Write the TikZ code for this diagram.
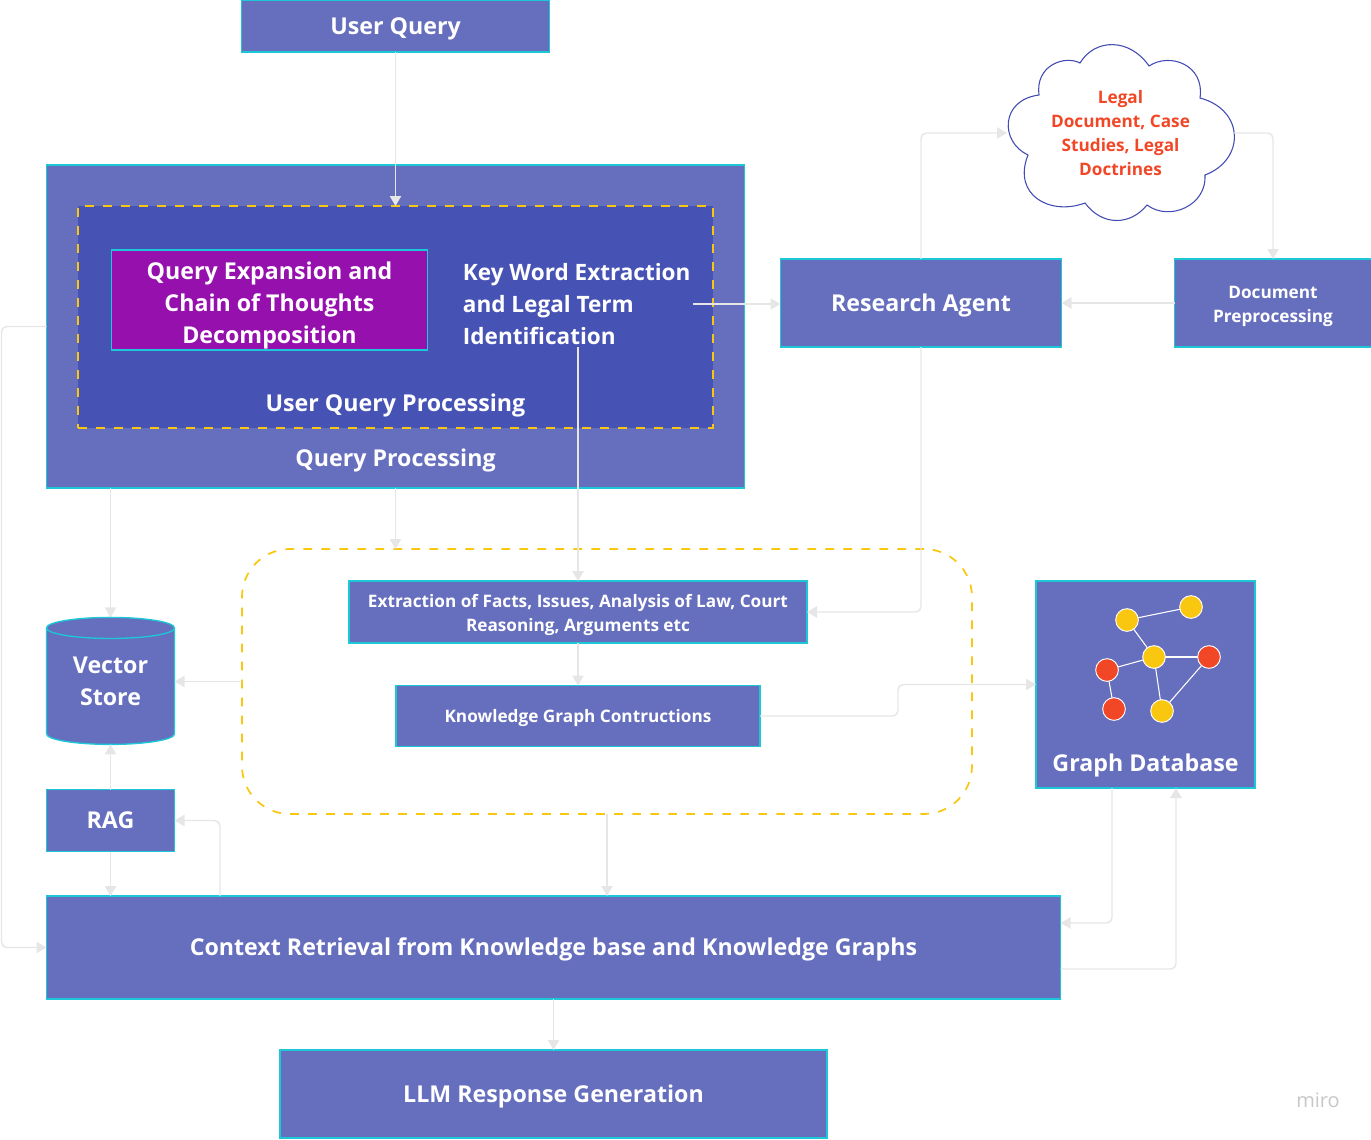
\documentclass[tikz,border=0pt]{standalone}
\usepackage{fontspec}
\setmainfont{Open Sans}
\usetikzlibrary{arrows.meta,shapes.geometric}

\definecolor{boxblue}{HTML}{666EBE}
\definecolor{deepblue}{HTML}{4753B4}
\definecolor{edgecyan}{HTML}{1CC8D8}
\definecolor{dashyellow}{HTML}{FAC710}
\definecolor{hotred}{HTML}{F24726}
\definecolor{purplebox}{HTML}{9510AC}
\definecolor{linkgrey}{HTML}{E6E6E6}
\definecolor{cloudblue}{HTML}{414BB2}

\newcommand{\topgap}[1]{\rule{0pt}{#1pt}}
\newcommand{\lowgap}[1]{\rule[-#1pt]{0pt}{#1pt}}

\tikzset{
    bigtxt/.style={font=\fontsize{17.4}{24}\selectfont\bfseries, text=white, align=center},
    smalltxt/.style={font=\fontsize{12.9}{18}\selectfont\bfseries, text=white, align=center},
    bigone/.style={bigtxt, text height=16pt, text depth=3.6pt},
    smallone/.style={smalltxt, text height=12pt, text depth=2.8pt},
    sized/.style 2 args={minimum width=#1*0.75pt, minimum height=#2*0.75pt},
    procbox/.style={draw=edgecyan, fill=boxblue, line width=1pt, inner sep=0pt, outer sep=0pt},
    dashline/.style={draw=dashyellow, dash pattern=on 6.5pt off 7pt, line width=1.3pt, outer sep=0pt},
    link/.style={draw=linkgrey, line width=1.1pt, rounded corners=4pt, -{Triangle[length=7.5pt,width=8.5pt]}},
    gnode/.style={circle, draw=white, line width=0.7pt, minimum size=17pt, inner sep=0pt, outer sep=0pt},
    gedge/.style={draw=white, line width=0.8pt}
}

\begin{document}
\begin{tikzpicture}[x=0.75pt, y=-0.75pt]
    \useasboundingbox (0,0) rectangle (1371,1139);

    % top boxes
    \node[procbox, bigone, sized={308}{52}] (userquery) at (395.5,26) {User Query};
    \node[procbox, sized={698}{323}] (qproc) at (395.5,326.5) {};
    \node[dashline, fill=deepblue, sized={635}{222}] (uqproc) at (395.5,317) {};
    \node[procbox, bigtxt, fill=purplebox, sized={316}{100}] (expansion) at (269.5,300) {\topgap{21.5}Query Expansion and\\Chain of Thoughts\\Decomposition};
    \node[bigtxt, font=\fontsize{16.9}{24}\selectfont\bfseries, align=left, anchor=west, inner sep=0pt, outer sep=2pt] (keyword) at (460.3,304) {Key Word Extraction\\and Legal Term\\Identification};
    \node[bigone, inner sep=0pt] (uqlabel) at (395.5,403) {User Query Processing};
    \node[bigone, inner sep=0pt] (qplabel) at (395.5,458) {Query Processing};

    \node[procbox, bigone, sized={281}{88}] (research) at (921,303) {Research Agent};
    \node[procbox, smalltxt, sized={197}{88}] (docprep) at (1273,303) {\topgap{15}Document\\Preprocessing};

    % cloud
    \draw[draw=cloudblue, fill=white, line width=0.8pt] (1028,155)
        .. controls (1000,142) and (1000,100) .. (1039,95)
        .. controls (1035,65) and (1065,55) .. (1080,63)
        .. controls (1095,38) and (1130,38) .. (1149,66)
        .. controls (1170,52) and (1205,65) .. (1200,98)
        .. controls (1245,110) and (1245,160) .. (1205,175)
        .. controls (1207,205) and (1170,222) .. (1147,205)
        .. controls (1130,226) and (1102,226) .. (1085,203)
        .. controls (1050,216) and (1012,195) .. (1028,155) -- cycle;
    \node[smalltxt, text=hotred, sized={227}{175}, inner sep=0pt, outer sep=0pt] (legaldocs) at (1120.5,133) {Legal\\Document, Case\\Studies, Legal\\Doctrines};

    % dashed group
    \node[dashline, rounded corners=36pt, sized={730}{265}] (kgroup) at (607,681.5) {};
    \node[procbox, smalltxt, sized={458}{62}] (extraction) at (578,612) {\topgap{14}Extraction of Facts, Issues, Analysis of Law, Court\\Reasoning, Arguments etc};
    \node[procbox, smallone, sized={364}{61}] (kgbuild) at (578,716) {Knowledge Graph Contructions};

    % left column
    \node[procbox, bigtxt, cylinder, shape border rotate=90, shape aspect=0.28, sized={128}{127}] (vstore) at (110.5,686.5) {Vector\\Store\lowgap{7.5}};
    \node[procbox, bigone, sized={128}{62}] (rag) at (110.5,820.5) {RAG};

    % graph database
    \node[procbox, sized={219}{207}] (graphdb) at (1145.5,684.5) {};
    \node[bigone, inner sep=0pt] (gdblabel) at (1145.5,763) {Graph Database};
    \node[gnode, fill=dashyellow] (g1) at (1127,620) {};
    \node[gnode, fill=dashyellow] (g2) at (1191,607) {};
    \node[gnode, fill=dashyellow] (g3) at (1154,657) {};
    \node[gnode, fill=hotred] (g4) at (1209,657) {};
    \node[gnode, fill=hotred] (g5) at (1107,670) {};
    \node[gnode, fill=hotred] (g6) at (1114,709) {};
    \node[gnode, fill=dashyellow] (g7) at (1162,711) {};
    \draw[gedge] (g1) -- (g2);
    \draw[gedge] (g1) -- (g3);
    \draw[gedge] (g3) -- (g4);
    \draw[gedge] (g3) -- (g5);
    \draw[gedge] (g5) -- (g6);
    \draw[gedge] (g3) -- (g7);
    \draw[gedge] (g7) -- (g4);

    % bottom boxes
    \node[procbox, bigone, sized={1014}{103}] (context) at (553.5,947.5) {Context Retrieval from Knowledge base and Knowledge Graphs};
    \node[procbox, bigone, sized={547}{88}] (llm) at (553.5,1094) {LLM Response Generation};

    \node[font=\fontsize{15}{18}\selectfont, text=black!22, inner sep=0pt] (miro) at (1318,1100) {miro};

    % connectors
    \draw[link] (userquery.south) -- (uqproc.north);
    \draw[link] (keyword.east) -- (research.west |- keyword.east);
    \draw[link] (docprep.west) -- (research.east);
    \draw[link] (research.north) |- (legaldocs.west);
    \draw[link] (legaldocs.east) -| (docprep.north);
    \draw[link] (keyword.south -| extraction.north) -- (extraction.north);
    \draw[link] (research.south) |- (extraction.east);
    \draw[link] (extraction.south) -- (kgbuild.north);
    \draw[link] (kgbuild.east) -- (898,716) -- (898,684.5) -- (graphdb.west);
    \draw[link] (qproc.south -| vstore.north) -- (vstore.north);
    \draw[link] (qproc.south -| userquery.south) -- (kgroup.north -| userquery.south);
    \draw[link] (kgroup.west) -- (vstore.east |- kgroup.west);
    \draw[link] (rag.north) -- (vstore.south);
    \draw[link] (rag.south) -- (context.north -| rag.south);
    \draw[link] (context.north -| 220,0) |- (rag.east);
    \draw[link] (qproc.west) -- ++(-45,0) |- (context.west);
    \draw[link] (kgroup.south) -- (context.north -| kgroup.south);
    \draw[link] (graphdb.south -| 1112,0) |- (context.east |- 0,923);
    \draw[link] (context.east |- 0,969) -| (graphdb.south -| 1176,0);
    \draw[link] (context.south) -- (llm.north);
\end{tikzpicture}
\end{document}
